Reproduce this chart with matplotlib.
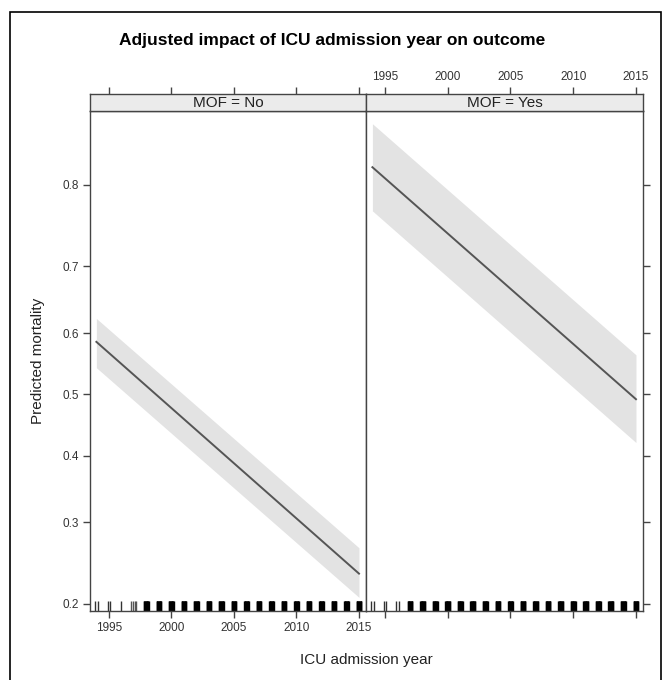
import matplotlib
matplotlib.use("Agg")
import matplotlib.pyplot as plt
import numpy as np
from matplotlib.patches import Rectangle
from matplotlib.ticker import FixedLocator, FixedFormatter, NullLocator

plt.rcParams["font.family"] = ["Liberation Sans", "DejaVu Sans"]

# panels (MOF = No / MOF = Yes)
panels = ["MOF = No", "MOF = Yes"]
years = [1994, 2015]

fit_no = [0.586, 0.234]
lower_no = [0.544, 0.207]
upper_no = [0.623, 0.266]

fit_yes = [0.818, 0.492]
lower_yes = [0.771, 0.421]
upper_yes = [0.857, 0.565]

# rug: number of observations marks per year (dense years drawn as solid bars)
rug_years = list(range(1994, 2016))
rug_no = [2, 2, 1, 4] + [12] * 18
rug_yes = [2, 2, 2] + [12] * 19

yticks = [0.2, 0.3, 0.4, 0.5, 0.6, 0.7, 0.8]
xticks = [1995, 2000, 2005, 2010, 2015]

W, H = 665, 680
fig = plt.figure(figsize=(W / 100, H / 100), dpi=100)

axcol = "#444444"
txtcol = "#333333"


def fx(px):
    return px / W


def fy(py):
    return 1 - py / H


panel_top, panel_bot = 111, 611
strip_top = 94
edges = [90, 366, 643]

data = [(fit_no, lower_no, upper_no, rug_no), (fit_yes, lower_yes, upper_yes, rug_yes)]

for i in range(2):
    x0, x1 = edges[i], edges[i + 1]
    ax = fig.add_axes([fx(x0), fy(panel_bot), fx(x1 - x0), (panel_bot - panel_top) / H])
    st = fig.add_axes([fx(x0), fy(panel_top), fx(x1 - x0), (panel_top - strip_top) / H], sharex=ax)

    fit, lo, up, rug = data[i]
    ax.set_yscale("logit")
    ax.fill_between(years, lo, up, color="#e3e3e3", lw=0)
    ax.plot(years, fit, color="#555555", lw=1.4)

    # rug along the bottom
    for yr, n in zip(rug_years, rug):
        if n >= 8:
            offs = np.linspace(-0.19, 0.19, n)
            col = "black"
        elif n >= 3:
            offs = np.linspace(-0.2, 0.2, n)
            col = "#555555"
        elif n == 2:
            offs = np.array([-0.11, 0.11])
            col = "#333333"
        else:
            offs = np.array([0.0])
            col = "#333333"
        ax.vlines(yr + offs, 0, 0.021, transform=ax.get_xaxis_transform(),
                  color=col, lw=1.0)

    ax.set_xlim(1993.49, 2015.56)
    ax.set_ylim(0.1926, 0.867)
    ax.yaxis.set_major_locator(FixedLocator(yticks))
    ax.yaxis.set_major_formatter(FixedFormatter([f"{t:.1f}" for t in yticks]))
    ax.yaxis.set_minor_locator(NullLocator())
    ax.set_xticks(xticks)

    for sp in ax.spines.values():
        sp.set_color(axcol)
        sp.set_linewidth(1.0)
    ax.tick_params(direction="out", length=5, width=1, color=axcol,
                   labelcolor=txtcol, labelsize=8.5, pad=3)

    if i == 0:
        ax.tick_params(axis="y", left=True, labelleft=True, right=False, labelright=False)
        ax.tick_params(axis="x", bottom=True, labelbottom=True)
    else:
        ax.tick_params(axis="y", left=False, labelleft=False, right=True, labelright=False)
        ax.tick_params(axis="x", bottom=True, labelbottom=False)

    # strip
    st.set_facecolor("#ebebeb")
    st.set_yticks([])
    for sp in st.spines.values():
        sp.set_color(axcol)
        sp.set_linewidth(1.0)
    st.tick_params(axis="x", bottom=False, labelbottom=False, top=True,
                   labeltop=(i == 1), direction="out", length=5, width=1,
                   color=axcol, labelcolor=txtcol, labelsize=8.5, pad=3)
    st.text(0.5, 0.45, panels[i], transform=st.transAxes, ha="center", va="center",
            fontsize=11, color="#222222")

fig.text(fx(332), fy(40), "Adjusted impact of ICU admission year on outcome",
         ha="center", va="center", fontsize=12.5, fontweight="bold", color="black")
fig.text(fx(366), fy(660), "ICU admission year", ha="center", va="center",
         fontsize=11, color="#222222")
fig.text(fx(38), fy(361), "Predicted mortality", ha="center", va="center",
         rotation=90, fontsize=11, color="#222222")

# outer frame
fig.patches.append(Rectangle((fx(10), -0.02), fx(661 - 10), fy(12) + 0.02,
                             transform=fig.transFigure, fill=False,
                             edgecolor="black", lw=1.2))

fig.savefig("out.png", dpi=100)
